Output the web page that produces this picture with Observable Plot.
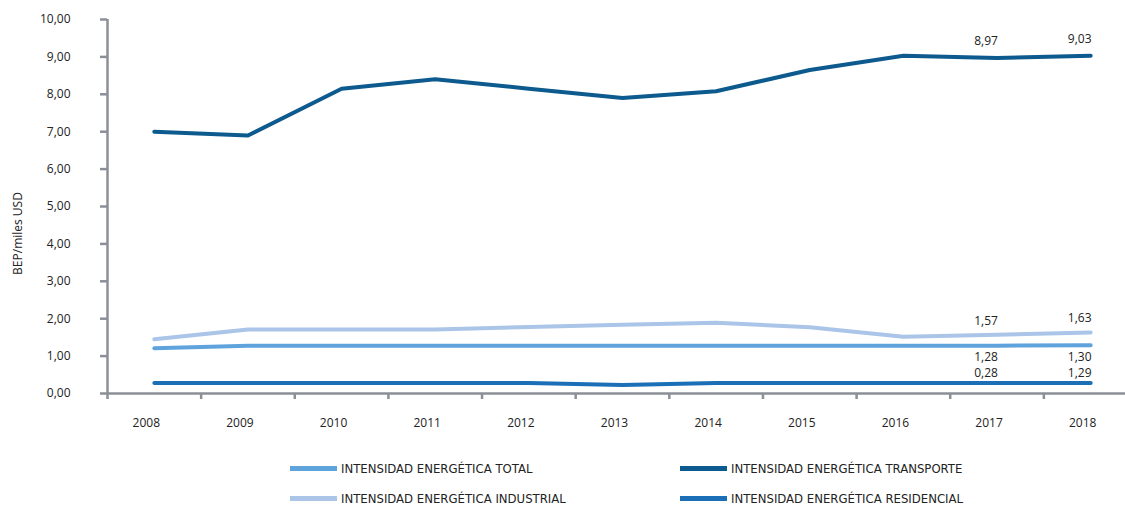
<!DOCTYPE html>
<html>
<head>
<meta charset="utf-8">
<script src="https://cdn.jsdelivr.net/npm/d3@7"></script>
<script src="https://cdn.jsdelivr.net/npm/@observablehq/plot@0.6"></script>
<style>
  html, body { margin: 0; padding: 0; background: #fff; }
  #chart { width: 1125px; }
  #legend { position: relative; width: 1125px; height: 61px; font-family: "Liberation Sans Narrow", "DejaVu Sans Condensed", "Roboto", sans-serif; font-size: 13px; color: #222; }
  .item { position: absolute; display: flex; align-items: center; height: 16px; }
  .sw { width: 47px; height: 5px; margin-right: 4px; }
</style>
</head>
<body>
<div id="chart"></div>
<div id="legend"></div>
<script>
const years = [2008, 2009, 2010, 2011, 2012, 2013, 2014, 2015, 2016, 2017, 2018];
const total       = [1.21, 1.28, 1.28, 1.28, 1.28, 1.28, 1.28, 1.28, 1.28, 1.28, 1.29];
const transporte  = [7.00, 6.90, 8.15, 8.40, 8.15, 7.90, 8.08, 8.65, 9.03, 8.97, 9.03];
const industrial  = [1.45, 1.71, 1.71, 1.71, 1.78, 1.84, 1.89, 1.77, 1.52, 1.57, 1.63];
const residencial = [0.28, 0.28, 0.28, 0.28, 0.28, 0.23, 0.28, 0.28, 0.28, 0.28, 0.28];

const labelYears = [2017, 2018];
const totalLabels = ["1,28", "1,30"];
const transporteLabels = ["8,97", "9,03"];
const industrialLabels = ["1,57", "1,63"];
const residencialLabels = ["0,28", "1,29"];

const names = ["INTENSIDAD ENERGÉTICA TOTAL", "INTENSIDAD ENERGÉTICA TRANSPORTE", "INTENSIDAD ENERGÉTICA INDUSTRIAL", "INTENSIDAD ENERGÉTICA RESIDENCIAL"];
const colors = ["#5fa3dc", "#0d5a8e", "#aac5e8", "#1a6fb7"];
const yTicks = [0, 1, 2, 3, 4, 5, 6, 7, 8, 9, 10];
const yTitle = "BEP/miles USD";

const series = [
  {name: names[0], values: total, color: colors[0], labels: totalLabels, dy: 12},
  {name: names[1], values: transporte, color: colors[1], labels: transporteLabels, dy: -17},
  {name: names[2], values: industrial, color: colors[2], labels: industrialLabels, dy: -14},
  {name: names[3], values: residencial, color: colors[3], labels: residencialLabels, dy: -10}
];

const axisColor = "#8b9097";
const fmt = d => d.toFixed(2).replace(".", ",");
const bounds = years.map(y => y - 0.5).concat([2018.5]);

const marks = [];
marks.push(Plot.ruleX([2007.5], {y1: 0, y2: 10, stroke: axisColor, strokeWidth: 2.5}));
marks.push(Plot.ruleY([0], {stroke: axisColor, strokeWidth: 2.5}));
marks.push(Plot.axisY(yTicks, {tickFormat: fmt, tickSize: 7, tickPadding: 30, stroke: axisColor, strokeWidth: 2.5, fill: "#222", label: null, fontSize: 12}));
marks.push(Plot.axisX(bounds, {tickSize: 6, tickFormat: () => "", stroke: axisColor, strokeWidth: 2.5, label: null}));
marks.push(Plot.axisX(years, {tickSize: 0, tickPadding: 25, tickFormat: d => String(d), dx: -8, fill: "#222", label: null, fontSize: 12}));

for (const s of [series[1], series[2], series[0], series[3]]) {
  const rows = years.map((y, i) => ({year: y, value: s.values[i]}));
  marks.push(Plot.line(rows, {x: "year", y: "value", stroke: s.color, strokeWidth: 4, strokeLinejoin: "round"}));
}
for (const s of series) {
  const lrows = labelYears.map((y, i) => ({year: y, value: s.values[years.indexOf(y)], text: s.labels[i]}));
  marks.push(Plot.text(lrows, {x: "year", y: "value", text: "text", dy: s.dy, dx: -11, fill: "#222", fontSize: 12}));
}
marks.push(Plot.text([yTitle], {text: d => d, frameAnchor: "left", textAnchor: "middle", rotate: -90, dx: -89, dy: 27, fill: "#222", fontSize: 12}));

const chart = Plot.plot({
  width: 1125,
  height: 445,
  marginLeft: 107,
  marginRight: 0,
  marginTop: 19,
  marginBottom: 52,
  style: {fontFamily: "'Open Sans', sans-serif", fontSize: "12px", color: "#222", background: "#fff"},
  x: {type: "linear", domain: [2007.5, 2018.5], range: [107, 1137]},
  y: {domain: [0, 10], range: [393, 19]},
  marks
});
document.getElementById("chart").appendChild(chart);

const legend = document.getElementById("legend");
const pos = [[290, 15], [680, 15], [290, 45], [680, 45]];
series.forEach((s, i) => {
  const it = document.createElement("div");
  it.className = "item";
  it.style.left = pos[i][0] + "px";
  it.style.top = pos[i][1] + "px";
  const sw = document.createElement("div");
  sw.className = "sw";
  sw.style.background = s.color;
  const tx = document.createElement("span");
  tx.textContent = s.name;
  it.appendChild(sw);
  it.appendChild(tx);
  legend.appendChild(it);
});
</script>
</body>
</html>
